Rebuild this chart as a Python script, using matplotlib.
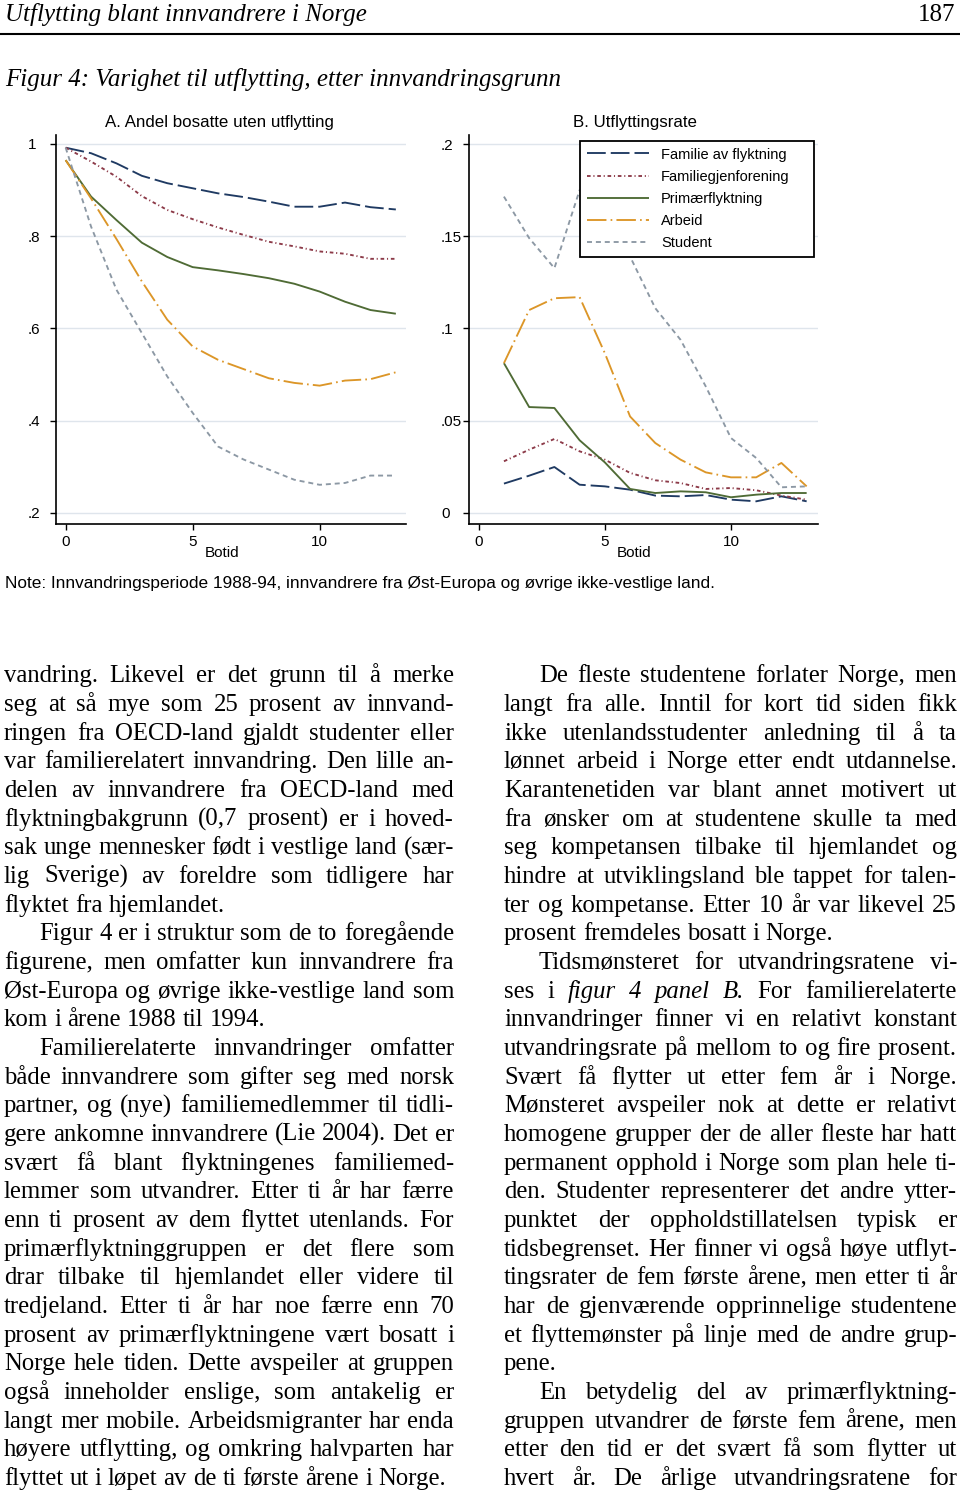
import matplotlib
matplotlib.use("Agg")
import matplotlib.pyplot as plt

plt.rcParams['lines.scale_dashes'] = False

W, H = 960, 1495

# ---- data ----
botid_a = [0, 1, 2, 3, 4, 5, 6, 7, 8, 9, 10, 11, 12, 13]
fam_flykt_a = [0.992, 0.980, 0.958, 0.931, 0.915, 0.904, 0.893, 0.885, 0.875, 0.864, 0.864, 0.873, 0.863, 0.858]
famgjen_a = [0.992, 0.962, 0.929, 0.887, 0.857, 0.837, 0.819, 0.803, 0.788, 0.778, 0.767, 0.762, 0.751, 0.751]
primaer_a = [0.965, 0.886, 0.835, 0.786, 0.755, 0.733, 0.726, 0.718, 0.709, 0.697, 0.680, 0.658, 0.640, 0.632]
arbeid_a = [0.965, 0.882, 0.794, 0.702, 0.619, 0.561, 0.532, 0.512, 0.492, 0.482, 0.476, 0.487, 0.490, 0.505]
student_a = [0.992, 0.821, 0.684, 0.590, 0.496, 0.417, 0.344, 0.316, 0.294, 0.272, 0.261, 0.265, 0.281, 0.281]

botid_b = [1, 2, 3, 4, 5, 6, 7, 8, 9, 10, 11, 12, 13]
fam_flykt_b = [0.0159, 0.0202, 0.0249, 0.0153, 0.0144, 0.0126, 0.0094, 0.0090, 0.0097, 0.0072, 0.0063, 0.0090, 0.0063]
famgjen_b = [0.0280, 0.0343, 0.0401, 0.0334, 0.0289, 0.0217, 0.0177, 0.0162, 0.0130, 0.0135, 0.0123, 0.0094, 0.0072]
primaer_b = [0.0812, 0.0574, 0.0569, 0.0394, 0.0274, 0.0130, 0.0108, 0.0117, 0.0112, 0.0085, 0.0099, 0.0108, 0.0108]
arbeid_b = [0.0812, 0.1100, 0.1164, 0.1170, 0.0866, 0.0523, 0.0379, 0.0289, 0.0220, 0.0193, 0.0193, 0.0271, 0.0144]
student_b = [0.1715, 0.1490, 0.1327, 0.1750, 0.1600, 0.1390, 0.1110, 0.0939, 0.0686, 0.0406, 0.0298, 0.0139, 0.0144]

groups = ['Familie av flyktning', 'Familiegjenforening', 'Primærflyktning', 'Arbeid', 'Student']
colors = ['#1f3a62', '#8c3a48', '#4f6b35', '#dc9628', '#8c98a4']
dash_styles = [(0, (13.5, 3.6)), (0, (2.6, 2.0, 0.8, 2.0)), '-', (0, (14, 3, 1.2, 3)), (0, (3.6, 2.8))]

yticks_a = [1, 0.8, 0.6, 0.4, 0.2]
ylabels_a = ['1', '.8', '.6', '.4', '.2']
yticks_b = [0.2, 0.15, 0.1, 0.05, 0]
ylabels_b = ['.2', '.15', '.1', '.05', '0']
xticks = [0, 5, 10]

SANS = 'Liberation Sans'
SERIF = 'Liberation Serif'


def fx(px):
    return px / W


def fy(py):
    return 1 - py / H


fig = plt.figure(figsize=(W / 100, H / 100), dpi=100)


def panel(left, right, xlim, ylim, x, series, yticks, ylabels):
    ax = fig.add_axes([fx(left), fy(524), (right - left) / W, (524 - 135) / H])
    for y, c, ls in zip(series, colors, dash_styles):
        ax.plot(x, y, color=c, linestyle=ls, lw=1.35, solid_capstyle='butt')
    ax.set_xlim(xlim)
    ax.set_ylim(ylim)
    ax.set_xticks(xticks)
    ax.set_yticks(yticks)
    ax.set_yticklabels(ylabels)
    for lab in ax.get_yticklabels():
        lab.set_ha('left')
    ax.tick_params(axis='both', direction='out', length=4.3, width=1.0, labelsize=11)
    ax.tick_params(axis='y', pad=15.8)
    ax.tick_params(axis='x', pad=3.5)
    for lab in ax.get_xticklabels() + ax.get_yticklabels():
        lab.set_family(SANS)
    for s in ['top', 'right']:
        ax.spines[s].set_visible(False)
    for s in ['left', 'bottom']:
        ax.spines[s].set_linewidth(1.2)
    ax.grid(axis='y', color='#dfe5ec', lw=1.0)
    ax.set_axisbelow(True)
    return ax


axA = panel(56, 406, (-0.38, 13.4), (0.176, 1.0195), botid_a,
            [fam_flykt_a, famgjen_a, primaer_a, arbeid_a, student_a], yticks_a, ylabels_a)
axB = panel(469, 818, (-0.385, 13.45), (-0.006, 0.2049), botid_b,
            [fam_flykt_b, famgjen_b, primaer_b, arbeid_b, student_b], yticks_b, ylabels_b)

leg = axB.legend(axB.get_lines(), groups, loc='upper left',
                 bbox_to_anchor=(fx(580), fy(256), 234 / W, 115 / H),
                 bbox_transform=fig.transFigure, mode='expand', borderaxespad=0,
                 fancybox=False, framealpha=1, edgecolor='black',
                 prop={'family': SANS, 'size': 10.5}, handlelength=4.3,
                 handletextpad=0.8, labelspacing=0.56, borderpad=0.45)
leg.get_frame().set_linewidth(1.3)

fig.text(fx(219), fy(127.5), 'A. Andel bosatte uten utflytting', family=SANS, fontsize=12.2,
         ha='center', va='baseline')
fig.text(fx(635), fy(127.5), 'B. Utflyttingsrate', family=SANS, fontsize=12.2,
         ha='center', va='baseline')
fig.text(fx(222), fy(557), 'Botid', family=SANS, fontsize=11, ha='center', va='baseline')
fig.text(fx(634), fy(557), 'Botid', family=SANS, fontsize=11, ha='center', va='baseline')
fig.text(fx(5), fy(588), 'Note: Innvandringsperiode 1988-94, innvandrere fra Øst-Europa og '
         'øvrige ikke-vestlige land.', family=SANS, fontsize=12.4, va='baseline')

# page header
fig.text(fx(5), fy(21), 'Utflytting blant innvandrere i Norge', family=SERIF, style='italic',
         fontsize=18, va='baseline')
fig.text(fx(955), fy(21), '187', family=SERIF, fontsize=18, ha='right', va='baseline')
fig.add_artist(plt.Line2D([0, 1], [fy(34), fy(34)], color='black', lw=1.5,
                          transform=fig.transFigure))
fig.text(fx(5), fy(86), 'Figur 4: Varighet til utflytting, etter innvandringsgrunn',
         family=SERIF, style='italic', fontsize=18, va='baseline')

# body text, paragraphs as printed lines ('_' marks italic words)
left_col = [
    (False, ["vandring. Likevel er det grunn til å merke",
             "seg at så mye som 25 prosent av innvand-",
             "ringen fra OECD-land gjaldt studenter eller",
             "var familierelatert innvandring. Den lille an-",
             "delen av innvandrere fra OECD-land med",
             "flyktningbakgrunn (0,7 prosent) er i hoved-",
             "sak unge mennesker født i vestlige land (sær-",
             "lig Sverige) av foreldre som tidligere har",
             "flyktet fra hjemlandet."]),
    (True, ["Figur 4 er i struktur som de to foregående",
            "figurene, men omfatter kun innvandrere fra",
            "Øst-Europa og øvrige ikke-vestlige land som",
            "kom i årene 1988 til 1994."]),
    (True, ["Familierelaterte innvandringer omfatter",
            "både innvandrere som gifter seg med norsk",
            "partner, og (nye) familiemedlemmer til tidli-",
            "gere ankomne innvandrere (Lie 2004). Det er",
            "svært få blant flyktningenes familiemed-",
            "lemmer som utvandrer. Etter ti år har færre",
            "enn ti prosent av dem flyttet utenlands. For",
            "primærflyktninggruppen er det flere som",
            "drar tilbake til hjemlandet eller videre til",
            "tredjeland. Etter ti år har noe færre enn 70",
            "prosent av primærflyktningene vært bosatt i",
            "Norge hele tiden. Dette avspeiler at gruppen",
            "også inneholder enslige, som antakelig er",
            "langt mer mobile. Arbeidsmigranter har enda",
            "høyere utflytting, og omkring halvparten har",
            "flyttet ut i løpet av de ti første årene i Norge."]),
]
right_col = [
    (True, ["De fleste studentene forlater Norge, men",
            "langt fra alle. Inntil for kort tid siden fikk",
            "ikke utenlandsstudenter anledning til å ta",
            "lønnet arbeid i Norge etter endt utdannelse.",
            "Karantenetiden var blant annet motivert ut",
            "fra ønsker om at studentene skulle ta med",
            "seg kompetansen tilbake til hjemlandet og",
            "hindre at utviklingsland ble tappet for talen-",
            "ter og kompetanse. Etter 10 år var likevel 25",
            "prosent fremdeles bosatt i Norge."]),
    (True, ["Tidsmønsteret for utvandringsratene vi-",
            "ses i _figur _4 _panel _B. For familierelaterte",
            "innvandringer finner vi en relativt konstant",
            "utvandringsrate på mellom to og fire prosent.",
            "Svært få flytter ut etter fem år i Norge.",
            "Mønsteret avspeiler nok at dette er relativt",
            "homogene grupper der de aller fleste har hatt",
            "permanent opphold i Norge som plan hele ti-",
            "den. Studenter representerer det andre ytter-",
            "punktet der oppholdstillatelsen typisk er",
            "tidsbegrenset. Her finner vi også høye utflyt-",
            "tingsrater de fem første årene, men etter ti år",
            "har de gjenværende opprinnelige studentene",
            "et flyttemønster på linje med de andre grup-",
            "pene."]),
    (True, ["En betydelig del av primærflyktning-",
            "gruppen utvandrer de første fem årene, men",
            "etter den tid er det svært få som flytter ut",
            "hvert år. De årlige utvandringsratene for"]),
]

BODY_FS = 17.8
renderer = fig.canvas.get_renderer()
space_w = BODY_FS * 100 / 72 * 0.25


def put_line(line, x0, x1, base, justify, indent):
    words = line.split(' ')
    items = []
    for w in words:
        italic = w.startswith('_')
        items.append(fig.text(0, fy(base), w.lstrip('_'), family=SERIF, fontsize=BODY_FS,
                              style='italic' if italic else 'normal', va='baseline'))
    widths = [t.get_window_extent(renderer).width for t in items]
    start = x0 + indent
    gap = space_w
    if justify and len(words) > 1:
        gap = (x1 - start - sum(widths)) / (len(words) - 1)
    x = start
    for t, w in zip(items, widths):
        t.set_x(fx(x))
        x += w + gap


def put_column(col, x0, x1, last_open):
    base = 682.3
    for p, (indented, lines) in enumerate(col):
        for i, line in enumerate(lines):
            last = i == len(lines) - 1 and not (last_open and p == len(col) - 1)
            put_line(line, x0, x1, base, not last, 35 if (indented and i == 0) else 0)
            base += 28.67


put_column(left_col, 4, 454, False)
put_column(right_col, 504, 957, True)

fig.savefig('out.png', dpi=100)
